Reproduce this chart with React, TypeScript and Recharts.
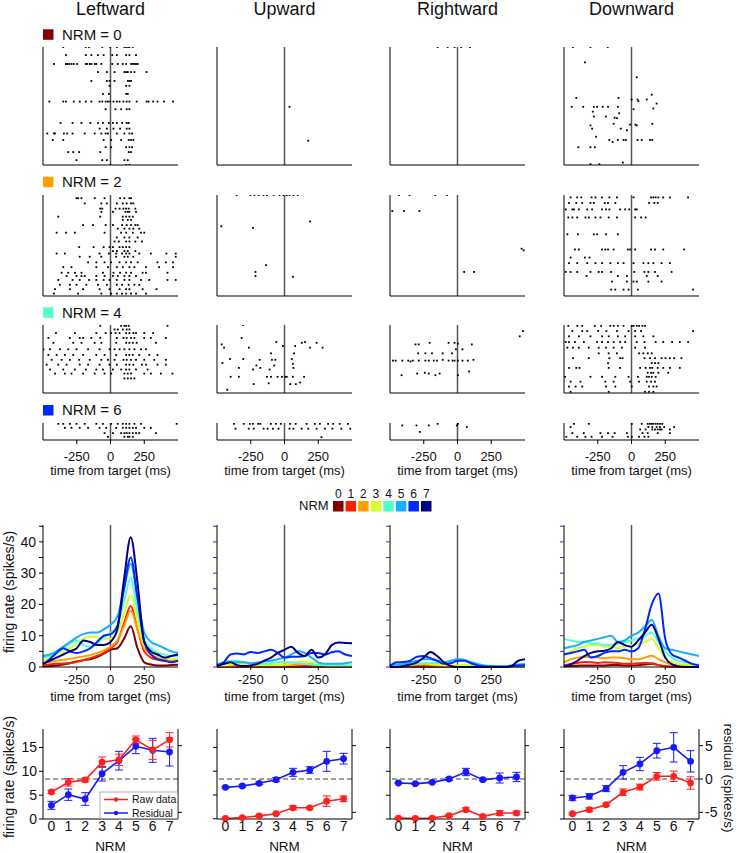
import React from 'react';
import { ScatterChart, Scatter, XAxis, YAxis, ReferenceLine, LineChart, Line, ErrorBar } from 'recharts';

const FONT = 'Arial, "Liberation Sans", Helvetica, sans-serif';

// ---------- categories / labels ----------
const DIRECTIONS = ['Leftward', 'Upward', 'Rightward', 'Downward'];
const NRM_LEVELS = [0, 1, 2, 3, 4, 5, 6, 7];
const RASTER_NRM = [0, 2, 4, 6];
const RASTER_TRIALS = [14.6, 12.6, 8.4, 2.1];
const TIME_TICKS = [-250, 0, 250];
const PSTH_TICKS = [0, 5, 10, 15, 20, 25, 30, 35, 40, 45];
const RATE_TICKS = [0, 5, 10, 15];
const RESID_TICKS = [-5, 0, 5];
const NRM_COLORS = ['#800000', '#ff2000', '#ffa000', '#d4ff30', '#55ffc8', '#12b0ff', '#0028ff', '#000088'];

// ---------- raster data: [trial, spike times (ms)] ----------
type Row = [number, number[]];
const LEFT_R0: Row[] = [
  [0, [-350, -183, -159, -61, -2, 47, 103, 116, 130, 140, 165]],
  [1, [-330, -183, -142, -93, -51, 13, 47, 116, 140, 189]],
  [2.1, [-419, -330, -321, -306, -289, -272, -247, -183, -174, -154, -142, -117, -105, -68, 13, 54, 91, 116, 152, 165, 177, 189, 201]],
  [3.1, [-93, -27, 30, 103, 116, 128, 152, 177, 267]],
  [4.2, [-142, -27, -7, 30, 128, 140, 152]],
  [4.8, [-7, 116, 140]],
  [5.8, [-56, -12, 116, 128]],
  [6.75, [-453, -350, -330, -272, -228, -183, -142, -81, -61, -36, -19, -2, 22, 47, 67, 96, 120, 140, 194, 267, 282, 316, 348, 397, 463]],
  [7.7, [-36, 37, 79, 120, 140]],
  [9.4, [-370, -281, -215, -149, -93, -56, -12, 18, 47, 86, 120, 135]],
  [10.1, [-81, -27, 22, 71, 120, 140]],
  [10.7, [-468, -419, -411, -345, -321, -281, -191, -117, -68, -36, -19, 47, 103, 140, 160]],
  [11.5, [-428, -350, -51, 5, 79, 135, 152, 170]],
  [12.4, [-36, 5, 116, 140, 160]],
  [13, [-313, -276, -232, -76, 135, 152]],
  [14, [-252, -61, -27, 103, 128]],
  [14.6, [-2, 116, 140]],
];
const LEFT_R2: Row[] = [
  [0.4, [-252, -240, -215, -117, -44, 71, 103, 140, 152]],
  [1.05, [-191, -68, -27, 47, 91, 120, 152, 169]],
  [1.7, [-76, -61, 37, 67, 96, 116, 135, 184]],
  [2.1, [-68, 18, 111, 128, 140, 189]],
  [2.7, [-387, -76, 91, 116, 140, 165]],
  [3.1, [91, 128, 152]],
  [3.75, [-203, -130, -36, 18, 86, 120, 152, 184, 201]],
  [4.2, [54, 103, 140, 169, 213]],
  [4.7, [-399, -330, -264, -44, 79, 116, 165, 226, 250]],
  [5.3, [47, 103, 140, 201]],
  [5.8, [30, 62, 116, 140, 184, 233]],
  [6.5, [-232, -125, -51, -7, 18, 67, 91, 116, 140]],
  [7, [18, 47, 103, 128, 184]],
  [7.3, [-399, -338, -81, -12, 42, 86, 116, 140, 213, 299, 414, 483]],
  [7.7, [-228, -154, -68, 42, 103, 128, 169, 483]],
  [8.4, [-166, -105, -44, 5, 67, 116, 152, 201, 348, 410, 463]],
  [9, [-350, -289, -105, -19, 47, 91, 140, 177, 263, 360, 463]],
  [9.7, [-362, -313, -264, -215, -56, 22, 71, 116, 152, 238, 263, 422]],
  [10.1, [-325, -252, -215, -191, -105, -44, 18, 54, 103, 140, 189]],
  [10.6, [-387, -281, -228, -159, -105, -51, -7, 47, 103, 140, 226, 287, 422, 483]],
  [11.2, [-375, -301, -252, -179, -93, -27, 47, 86, 135, 177, 213]],
  [11.75, [-411, -301, -203, -81, -7, 67, 116, 140, 238, 341]],
  [12.3, [-419, -240, -68, 5, 47, 86, 116, 152, 189, 263]],
];
const LEFT_R4: Row[] = [
  [0.1, [-76, 79, 103, 116, 135, 422]],
  [0.55, [30, 54, 91, 120, 140]],
  [1, [-404, -264, -105, -36, 5, 37, 67, 116, 140, 169, 189, 250, 316]],
  [1.6, [-460, -301, -228, -203, -142, -76, 47, 96, 120, 152, 177, 250, 299, 410]],
  [2.2, [-423, -276, -215, -117, -68, 42, 116, 140, 165, 194, 336]],
  [3, [-497, -448, -375, -313, -252, -166, -81, -7, 30, 67, 103, 140, 177, 226, 263]],
  [3.7, [-460, -399, -338, -276, -203, -105, -44, 42, 116, 140, 165, 213, 287, 348]],
  [4.3, [-436, -362, -301, -232, -154, -68, -19, 30, 96, 120, 152, 189, 250, 324, 410]],
  [4.9, [-473, -387, -325, -228, -166, -81, -7, 47, 116, 140, 169, 233, 263, 348, 410]],
  [5.5, [-448, -350, -264, -183, -105, -56, 18, 79, 116, 140, 189, 275]],
  [6, [-411, -338, -289, -203, -117, -44, 5, 103, 128, 152, 250, 299, 373, 459]],
  [6.6, [103, 128, 152, 177]],
];
const LEFT_R6: Row[] = [
  [0.1, [-387, -350, -301, -252, -191, -105, -56, 5, 54, 91, 116, 140, 177, 226, 490]],
  [0.6, [-338, -289, -228, -166, -81, -32, 42, 91, 116, 140, 165, 189, 250, 299]],
  [1.25, [-44, 18, 79, 103, 120, 140, 165, 189, 213, 336]],
  [1.7, [-19, 103, 128, 140, 165]],
];
const UP_R0: Row[] = [[7.4, [37]], [11.6, [176]]];
const UP_R2: Row[] = [
  [0, [-355, -252, -223, -191, -155, -130, -81, -37, -8, 17, 37, 66, 98]],
  [3.3, [189]], [3.9, [-468]], [4.1, [-233]], [8.75, [-137]], [9.6, [-215]], [10.1, [-215]], [10.2, [62]],
];
const UP_R4: Row[] = [
  [0, [-308]], [1.6, [-318]], [2.1, [-61, 152]], [2.2, [128, 238]], [2.4, [-465]], [2.6, [-12, 79]],
  [2.8, [-448, -264, 189, 282]], [3.5, [-100, 71]], [4.2, [-404, -306, 54]], [4.3, [-184, -93, -68]],
  [4.7, [-460]], [4.8, [62]], [5, [-208, -76]], [5.3, [-338, -179, 66]], [5.5, [-233, -110]],
  [6.4, [-399, -338, -130, -100, -51, -19, 5, 17, 62, 145]], [7.1, [115]], [7.2, [-117]], [7.3, [-228, 42, 84]], [8, [-424]],
];
const UP_R6: Row[] = [
  [0.1, [-375, -302, -257, -235, -196, -179, -101, -64, -27, 42, 83, 164, 225, 262, 323, 360, 409, 470]],
  [0.7, [-363, -265, -228, -155, -125, -86, -44, 37, 66, 127, 176, 238, 299, 355, 421, 487]],
  [1.75, [274]],
];
const RIGHT_R0: Row[] = [[0, [-147, -73, -22, 27, 93]]];
const RIGHT_R2: Row[] = [[0, [-434, -355, -164, -78]], [2, [-483, -397, -282]], [6.7, [475]], [6.9, [490]], [9.6, [49, 123]]];
const RIGHT_R4: Row[] = [
  [0.75, [485]], [1.4, [461]], [2.2, [-206, -66, -22]], [2.3, [3]], [2.4, [-311, -287, 106]], [3, [-12, 37]],
  [3.5, [-291, -238, -189, -110, -41]], [4.3, [-110, 118]],
  [4.4, [-478, -458, -409, -365, -331, -287, -238, -213, -176, -152, -66, -37, -22, 3, 37, 76]],
  [4.5, [-348]], [5.75, [86]], [5.9, [-242]], [6, [-299, -213, -132]], [6.2, [-414, -164, 3]],
];
const RIGHT_R6: Row[] = [[0.1, [-147, 3]], [0.3, [-409, -304, -213, -5]], [0.5, [69]], [1.1, [-279]]];
const DOWN_R0: Row[] = [
  [0, [-434, -304, -176]], [1.9, [-345]], [3.75, [39]], [5.9, [150]], [6.3, [-409, -96]], [6.5, [1, 45, 113]],
  [6.7, [51]], [7, [186]], [7.4, [-443, -358, -279, -255, -213, -174, -101]], [7.6, [162]], [7.7, [15]],
  [8, [-287]], [8.2, [-91]], [8.6, [-279, -189]], [8.75, [-125]], [8.8, [-108]], [9.5, [-132, 154]],
  [9.6, [-10, 29]], [9.7, [-304, 39]], [10.1, [-292, -79]], [10.3, [-34]], [11.1, [-262]],
  [11.5, [-164, -101, -59, -42, 45, 76, 137, 154]], [11.75, [-140]], [12.4, [-394, -304, -272]],
  [14.3, [-64]], [14.5, [-304, -238]],
];
const DOWN_R2: Row[] = [
  [0.3, [-451, -402, -372, -296, -267, -218, -164, -108, 15, 145, 162, 179, 199, 235, 284, 419]],
  [1, [-463, -409, -365, -304, -279, -198, -174, -120, 130, 169, 194]],
  [1.8, [-487, -438, -426, -390, -328, -292, -218, -189, -164, -84, -47, -17, 27, 39]],
  [2.8, [-468, -438, -402, -341, -316, -267, -230, -169, -108, 27, 71, 105]],
  [4.9, [-475, -397, -279, -255, -189, -101]],
  [6.8, [-419, -390, -218, -194, -174, -132, -27, -10, 27, 145, 174, 235, 390]],
  [7.8, [-451, -345, -311]],
  [8.5, [-463, -402, -328, -267, -218, -157, -101, -59, 15, 88, 125, 162, 223, 284]],
  [9.6, [-487, -451, -402, -304, -243, -218, -152, 20, 96, 125, 174, 297]],
  [10.1, [-333, -101, -34, 113, 194]],
  [10.8, [-145, -34, 15, 39, 125, 223]],
  [11.8, [-150, -120, -59, -22, 47, 456]],
];
const DOWN_R4: Row[] = [
  [0.1, [-468, -402, -365, -272, -225, -157, -132, -101, -59, 2, 15, 39, 56, 81, 100]],
  [0.75, [-438, -365, -328, -247, -186, -108, -22, 27, 71, 456]],
  [1.4, [-463, -390, -304, -218, -169, -101, -47, 27, 88, 162]],
  [2.1, [-487, -463, -419, -353, -255, -218, -174, -132, -84, -47, 39, 96, 179, 235, 301, 358, 419]],
  [2.8, [-475, -434, -390, -316, -243, -189, -132, -71, 27, 100]],
  [3.5, [-243, -169, -108, 56, 88, 120, 150]],
  [4.1, [-434, -316, -164, -84, -66, 96, 137, 174, 223, 252, 284, 316, 370]],
  [4.7, [-174, 150, 174, 199]],
  [5.3, [-463, -409, -385, -169, -84, 64, 105, 137, 154, 194, 235, 284, 358]],
  [5.9, [120, 145, 162, 199, 272]],
  [6.4, [-492, -304, -218, -120, -22, 47, 113, 130, 150, 179]],
  [7, [-451, -378, -194, -132, -10, 56, 113, 145, 174]],
  [7.6, [-463, -414, -365, -189, -120, 2, 130, 162, 186]],
  [8.25, [-451, -169, 100, 130, 162]],
];
const DOWN_R6: Row[] = [
  [0.1, [-426, -316, 2, 76, 120, 137, 150, 162, 179, 194, 211, 228]],
  [0.5, [-451, 125, 154, 186, 211, 242, 316]],
  [0.8, [64, 105, 154, 174, 194, 211, 223, 284]],
  [1.25, [-438, -353, -230, -174, -125, -34, 81, 120, 194, 284]],
  [1.7, [-483, -402, -341, -296, -218, -140, -27, 2, 56, 96, 125]],
];
const RASTERS: Row[][][] = [
  [LEFT_R0, LEFT_R2, LEFT_R4, LEFT_R6],
  [UP_R0, UP_R2, UP_R4, UP_R6],
  [RIGHT_R0, RIGHT_R2, RIGHT_R4, RIGHT_R6],
  [DOWN_R0, DOWN_R2, DOWN_R4, DOWN_R6],
];

// ---------- PSTH data (spikes/s), one row per NRM level ----------
const PSTH_T = [-500, -450, -400, -350, -300, -250, -200, -150, -100, -50, 0, 50, 100, 150, 200, 250, 300, 350, 400, 450, 500];
const PSTH_LEFT = [
  [0.2, 0.3, 0.5, 0.8, 1.2, 1.8, 2.2, 2.5, 3.2, 4.3, 5.5, 6, 9, 13, 6, 1.5, 0.8, 0.5, 0.5, 0.6, 0.7],
  [0.5, 0.8, 1, 1.1, 1.3, 1.6, 2.2, 2.8, 3.5, 4.5, 6, 8, 14, 19.5, 12, 5, 3, 2.3, 2, 2, 2.2],
  [1.2, 1.6, 2, 2.3, 2.6, 3, 3.4, 3.8, 4.5, 5.3, 6.5, 8.5, 13, 18, 12, 6, 4, 3, 2.5, 2.3, 2.5],
  [2, 3, 4, 5, 6, 7.5, 9, 9.7, 9.5, 9, 9, 11, 17, 23, 15, 7, 5, 3.5, 3, 2.5, 2.7],
  [3, 3.5, 4.5, 6, 7.5, 8.5, 7, 6.5, 7.5, 9.5, 11, 13, 21, 28.5, 18, 9, 6, 4.5, 4, 3.5, 3.5],
  [3.5, 4, 5, 6.5, 8, 9.5, 10.5, 11, 11, 12, 13.5, 16, 25, 33, 22, 11, 8, 7, 6, 5, 4.5],
  [1, 2.5, 4.5, 6, 5, 4.5, 5, 6, 8, 10, 10.5, 13, 25, 35, 22, 8, 4, 2.5, 2, 1.5, 2],
  [1, 2, 3, 4, 5, 6, 8.5, 8, 7, 7, 8, 12, 28, 41.5, 27, 8, 5, 4, 3, 3.5, 4],
];
const PSTH_UP = [
  [0.1, 0.1, 0.1, 0.1, 0.1, 0.1, 0.1, 0.1, 0.1, 0.1, 0.1, 0.1, 0.1, 0.1, 0.1, 0.1, 0.1, 0.1, 0.1, 0.1, 0.1],
  [0.1, 0.1, 0.1, 0.1, 0.1, 0.2, 0.2, 0.2, 0.2, 0.2, 0.2, 0.2, 0.3, 0.3, 0.3, 0.2, 0.2, 0.2, 0.2, 0.2, 0.2],
  [0.3, 0.3, 0.3, 0.4, 0.4, 0.4, 0.4, 0.5, 0.5, 0.5, 0.5, 0.6, 0.8, 1, 1, 0.7, 0.5, 0.4, 0.4, 0.4, 0.4],
  [0.3, 0.5, 0.8, 1, 1, 1, 0.8, 0.6, 0.6, 0.6, 0.8, 1.2, 1.6, 1.8, 1.5, 1, 0.6, 0.5, 0.5, 0.5, 0.5],
  [1, 1.5, 2, 2, 1.5, 1.2, 1, 1, 1.2, 1.5, 1.5, 1.5, 1.2, 1, 0.8, 0.6, 0.5, 0.5, 0.5, 0.5, 0.5],
  [0.8, 1, 1.5, 1.5, 1.5, 1.2, 1.5, 1.8, 2, 2.5, 3, 4, 5, 4.5, 3, 1.5, 1, 1, 1, 1.2, 1.5],
  [0.5, 1.5, 4, 4.3, 4, 4.8, 4.5, 5, 5.5, 4.5, 3, 3.3, 3.3, 3.5, 4.5, 4.5, 4, 4.7, 5, 4, 3.5],
  [0.2, 1, 1.5, 0.6, 0.3, 0.5, 1, 2, 3, 4.5, 5.5, 6.5, 4.5, 3.5, 5.5, 3, 4, 7, 7.8, 7.7, 7.6],
];
const PSTH_RIGHT = [
  [0.05, 0.05, 0.05, 0.05, 0.05, 0.05, 0.05, 0.05, 0.05, 0.05, 0.05, 0.05, 0.05, 0.05, 0.05, 0.05, 0.05, 0.05, 0.05, 0.05, 0.05],
  [0.1, 0.1, 0.2, 0.3, 0.3, 0.3, 0.3, 0.2, 0.2, 0.1, 0.1, 0.1, 0.1, 0.1, 0.1, 0.1, 0.1, 0.1, 0.1, 0.1, 0.1],
  [0.2, 0.3, 0.4, 0.6, 0.8, 0.9, 0.7, 0.4, 0.3, 0.2, 0.3, 0.3, 0.2, 0.1, 0.1, 0.1, 0.1, 0.1, 0.1, 0.1, 0.1],
  [0.3, 0.5, 0.7, 0.9, 1.1, 1.2, 1, 0.7, 0.5, 0.4, 0.5, 0.6, 0.5, 0.3, 0.2, 0.2, 0.2, 0.2, 0.2, 0.2, 0.2],
  [0.3, 0.4, 0.6, 0.8, 1, 1.2, 1.3, 1.3, 1.5, 2, 2.5, 2.2, 1.2, 0.5, 0.2, 0.2, 0.2, 0.2, 0.2, 0.2, 0.2],
  [0.5, 0.8, 1, 1.5, 2, 2.5, 2.5, 2, 1.5, 2, 2.5, 2.3, 1.5, 1, 0.5, 0.3, 0.3, 0.3, 0.5, 0.8, 1],
  [0.3, 1.5, 1.6, 2, 3.3, 3.5, 2.8, 2, 1, 1.2, 2, 2, 1.2, 0.5, 0.2, 0.1, 0, 0, 0.3, 0.5, 0.6],
  [0, 0, 0.3, 0.8, 1.5, 3, 4.8, 3.5, 1.5, 0.3, 0, 0, 0, 0, 0, 0, 0, 0, 0.3, 2, 2.5],
];
const PSTH_DOWN = [
  [0.2, 0.3, 0.4, 0.5, 0.5, 0.5, 0.5, 0.6, 0.6, 0.5, 0.5, 0.6, 0.8, 1, 0.6, 0.2, 0.1, 0.1, 0.1, 0.1, 0.1],
  [0.5, 1, 1.3, 1.6, 1.5, 1.3, 1.5, 1.4, 1.3, 1, 1, 1.2, 1.3, 1.2, 0.6, 0.3, 0.1, 0.1, 0.1, 0.1, 0.1],
  [1.5, 2.5, 3, 3.2, 3.3, 3, 2.8, 3, 3, 2.8, 2.5, 2.5, 3, 3.6, 2.5, 1.5, 0.8, 0.5, 0.3, 0.2, 0.2],
  [4, 5, 6, 6.5, 7, 7, 6.5, 6.5, 6, 6.5, 7, 7.5, 8, 9, 6, 3, 1.5, 1, 0.8, 0.5, 0.3],
  [9, 8.5, 8, 8, 7.5, 7.5, 7, 7, 7.5, 8, 8.5, 9, 10, 11, 8, 5, 3, 2, 1.5, 1, 0.8],
  [6, 6.5, 7, 8, 8.5, 9, 9.5, 10, 8, 8.5, 10, 11, 13, 15, 10, 6, 5.5, 5, 4.5, 4, 3.5],
  [4, 4.5, 5, 5.5, 3, 3.5, 4.5, 5, 5, 5.5, 5, 6, 12, 20, 23.5, 9, 4, 3, 2, 1, 0.5],
  [0.2, 0.8, 2, 3.5, 4.5, 5, 5.2, 6, 8, 7, 6.5, 8.5, 11, 13.5, 9, 3, 0.8, 0.2, 0, 0, 0],
];
const PSTHS = [PSTH_LEFT, PSTH_UP, PSTH_RIGHT, PSTH_DOWN];

// ---------- tuning data ----------
const RAW_LEFT = [5.66, 7.7, 8.2, 11.9, 12.4, 16.6, 14.5, 16.6];
const RAW_LEFT_ERR = [0.3, 0.8, 0.4, 1.1, 1.2, 0.8, 2.0, 1.5];
const RES_LEFT = [-3.95, -2.35, -3.0, 0.8, 2.75, 4.9, 4.3, 4.05];
const RES_LEFT_ERR = [0.6, 0.85, 0.95, 1.1, 1.4, 1.1, 1.8, 2.1];
const RAW_UP = [0.05, 0.25, 0.6, 1.05, 2.3, 2.3, 3.7, 4.2];
const RAW_UP_ERR = [0.1, 0.1, 0.15, 0.15, 0.4, 0.3, 1.1, 0.6];
const RES_UP = [-1.25, -1.05, -0.65, -0.1, 1.0, 1.35, 2.65, 3.05];
const RES_UP_ERR = [0.15, 0.15, 0.2, 0.3, 0.6, 0.5, 1.5, 0.8];
const RAW_RIGHT = [0.2, 0.1, 0.2, 0.7, 1.95, 0.55, 1.25, 1.25];
const RAW_RIGHT_ERR = [0.15, 0.1, 0.15, 0.2, 0.4, 0.2, 0.5, 0.4];
const RES_RIGHT = [-0.6, -0.7, -0.5, 0.0, 1.05, -0.1, 0.15, 0.3];
const RES_RIGHT_ERR = [0.1, 0.1, 0.1, 0.2, 0.55, 0.15, 0.75, 0.7];
const RAW_DOWN = [1.1, 1.95, 3.0, 5.6, 6.7, 8.95, 8.95, 7.55];
const RAW_DOWN_ERR = [0.2, 0.4, 0.3, 0.7, 0.6, 0.8, 1.1, 1.3];
const RES_DOWN = [-2.85, -2.6, -1.45, 1.0, 2.25, 4.25, 4.75, 2.65];
const RES_DOWN_ERR = [0.35, 0.4, 0.45, 1.0, 1.0, 1.1, 2.2, 1.6];
const TUNING = [
  [RAW_LEFT, RAW_LEFT_ERR, RES_LEFT, RES_LEFT_ERR],
  [RAW_UP, RAW_UP_ERR, RES_UP, RES_UP_ERR],
  [RAW_RIGHT, RAW_RIGHT_ERR, RES_RIGHT, RES_RIGHT_ERR],
  [RAW_DOWN, RAW_DOWN_ERR, RES_DOWN, RES_DOWN_ERR],
];

// ---------- layout ----------
const COL_L = [43, 217, 390, 564];
const PW = 135;
const RASTER_TOP = [47, 195, 325, 423];
const RASTER_H = [118, 101, 68, 17];
const NRM_LABEL_Y = [34.3, 181.7, 312.3, 410];
const PSTH_TOP = 525;
const PSTH_H = 142;
const TUN_TOP = 729;
const TUN_H = 90;
const RAW_COLOR = '#ff2020';
const RES_COLOR = '#1818ff';

const SpikeDot = (p: any) => <rect x={p.cx - 0.9} y={p.cy - 0.9} width={1.8} height={1.8} fill="#000" />;

function Raster({ col, row }: { col: number; row: number }) {
  const rows = RASTERS[col][row];
  const data = rows.flatMap(([tr, ts]) => ts.map((t) => ({ t, tr })));
  const last = row === 3;
  const axisH = last ? 30 : 2;
  const H = RASTER_H[row];
  return (
    <div style={{ position: 'absolute', left: COL_L[col] - 1, top: RASTER_TOP[row] - 2 }}>
      <ScatterChart width={PW + 2} height={H + 2 + axisH} margin={{ top: 2, right: 1, left: 1, bottom: 0 }}>
        <XAxis
          type="number"
          dataKey="t"
          domain={[-500, 500]}
          ticks={TIME_TICKS}
          allowDataOverflow
          height={axisH}
          axisLine={{ stroke: '#000' }}
          tick={last ? { fontSize: 13, fill: '#111', fontFamily: FONT } : false}
          tickLine={last ? { stroke: '#000' } : false}
          tickSize={4}
          tickMargin={8}
        />
        <YAxis type="number" dataKey="tr" domain={[0, RASTER_TRIALS[row]]} reversed hide allowDataOverflow />
        <ReferenceLine x={-500} stroke="#000" strokeWidth={1} />
        <ReferenceLine x={0} stroke="#555" strokeWidth={1.5} />
        <Scatter data={data} shape={SpikeDot} isAnimationActive={false} />
      </ScatterChart>
    </div>
  );
}

function Psth({ col }: { col: number }) {
  const series = PSTHS[col];
  const data = PSTH_T.map((t, i) => {
    const o: any = { t };
    series.forEach((s, k) => (o['c' + k] = s[i]));
    return o;
  });
  const labels = col === 0;
  return (
    <div style={{ position: 'absolute', left: COL_L[col] - 40, top: PSTH_TOP - 4 }}>
      <LineChart width={40 + PW + 2} height={4 + PSTH_H + 24} margin={{ top: 4, right: 2, left: 0, bottom: 0 }} data={data}>
        <XAxis
          type="number"
          dataKey="t"
          domain={[-500, 500]}
          ticks={TIME_TICKS}
          height={24}
          axisLine={{ stroke: '#000' }}
          tickLine={{ stroke: '#000' }}
          tickSize={3}
          tickMargin={5}
          tick={{ fontSize: 13, fill: '#111', fontFamily: FONT }}
        />
        <YAxis
          type="number"
          domain={[0, 45.4]}
          ticks={PSTH_TICKS}
          width={40}
          axisLine={{ stroke: '#000' }}
          tickLine={{ stroke: labels ? '#000' : '#3030b0' }}
          tickSize={4}
          tickMargin={3}
          tick={{ fontSize: 14, fill: '#111', fontFamily: FONT }}
          tickFormatter={(v: number) => (labels && v % 10 === 0 ? String(v) : '')}
        />
        <ReferenceLine x={0} stroke="#555" strokeWidth={1.5} />
        {series.map((_, k) => (
          <Line
            key={k}
            type="monotone"
            dataKey={'c' + k}
            stroke={NRM_COLORS[k]}
            strokeWidth={2}
            dot={false}
            isAnimationActive={false}
          />
        ))}
      </LineChart>
    </div>
  );
}

function Tuning({ col }: { col: number }) {
  const [raw, rawErr, res, resErr] = TUNING[col];
  const data = NRM_LEVELS.map((n, i) => ({ n, raw: raw[i], rawErr: rawErr[i], res: res[i], resErr: resErr[i] }));
  const showL = col === 0;
  const showR = col === 3;
  return (
    <div style={{ position: 'absolute', left: COL_L[col] - 40, top: TUN_TOP - 4 }}>
      <LineChart width={40 + PW + 40} height={4 + TUN_H + 20} margin={{ top: 4, right: 0, left: 0, bottom: 0 }} data={data}>
        <XAxis
          type="number"
          dataKey="n"
          domain={[-0.5, 7.5]}
          ticks={NRM_LEVELS}
          height={20}
          axisLine={{ stroke: '#000' }}
          tickLine={false}
          tickSize={2}
          tickMargin={0}
          tick={{ fontSize: 14, fill: '#111', fontFamily: FONT }}
        />
        <YAxis
          yAxisId="l"
          type="number"
          domain={[0, 18.87]}
          ticks={RATE_TICKS}
          width={40}
          axisLine={{ stroke: '#000' }}
          tickLine={{ stroke: '#000' }}
          tickSize={4}
          tickMargin={2}
          tick={{ fontSize: 14, fill: '#111', fontFamily: FONT }}
          tickFormatter={(v: number) => (showL ? String(v) : '')}
        />
        <YAxis
          yAxisId="r"
          orientation="right"
          type="number"
          domain={[-6, 7.5]}
          ticks={showR ? RESID_TICKS : [-5, 5]}
          width={40}
          axisLine={{ stroke: '#000' }}
          tickLine={{ stroke: '#000' }}
          tickSize={4}
          tickMargin={2}
          tick={{ fontSize: 14, fill: '#111', fontFamily: FONT }}
          tickFormatter={(v: number) => (showR ? String(v) : '')}
        />
        <ReferenceLine yAxisId="r" y={0} stroke="#444" strokeWidth={1.2} strokeDasharray="5 3" />
        <Line
          yAxisId="r"
          type="linear"
          dataKey="res"
          stroke={RES_COLOR}
          strokeWidth={1.6}
          dot={{ r: 2.6, fill: RES_COLOR, stroke: RES_COLOR }}
          isAnimationActive={false}
        >
          <ErrorBar dataKey="resErr" width={4} stroke={RES_COLOR} strokeWidth={1} />
        </Line>
        <Line
          yAxisId="l"
          type="linear"
          dataKey="raw"
          stroke={RAW_COLOR}
          strokeWidth={1.6}
          dot={{ r: 2.6, fill: RAW_COLOR, stroke: RAW_COLOR }}
          isAnimationActive={false}
        >
          <ErrorBar dataKey="rawErr" width={4} stroke={RAW_COLOR} strokeWidth={1} />
        </Line>
      </LineChart>
    </div>
  );
}

function Overlay() {
  const txt = { fontFamily: FONT, fill: '#111' } as const;
  return (
    <svg width={738} height={853} style={{ position: 'absolute', left: 0, top: 0, pointerEvents: 'none' }}>
      {DIRECTIONS.map((d, c) => (
        <text key={d} x={COL_L[c] + PW / 2} y={15} fontSize={18} textAnchor="middle" {...txt}>
          {d}
        </text>
      ))}
      {RASTER_NRM.map((n, r) => (
        <g key={n}>
          <rect x={43} y={NRM_LABEL_Y[r] - 5} width={10.5} height={10.5} fill={NRM_COLORS[n]} />
          <text x={62} y={NRM_LABEL_Y[r] + 5.4} fontSize={15} {...txt}>
            {`NRM = ${n}`}
          </text>
        </g>
      ))}
      {COL_L.map((l, c) => (
        <g key={c}>
          <text x={l + PW / 2} y={475.3} fontSize={13} textAnchor="middle" {...txt}>
            time from target (ms)
          </text>
          <text x={l + PW / 2} y={701.3} fontSize={13} textAnchor="middle" {...txt}>
            time from target (ms)
          </text>
          <text x={l + PW / 2} y={851} fontSize={13.5} textAnchor="middle" {...txt}>
            NRM
          </text>
        </g>
      ))}
      <text x={299} y={510.3} fontSize={13} {...txt}>
        NRM
      </text>
      {NRM_LEVELS.map((n, i) => (
        <g key={n}>
          <rect x={333 + 12.57 * i} y={501} width={10.5} height={10.5} fill={NRM_COLORS[i]} />
          <text x={333 + 12.57 * i + 5.25} y={497.6} fontSize={12} textAnchor="middle" {...txt}>
            {n}
          </text>
        </g>
      ))}
      <text x={13.5} y={592} fontSize={14} textAnchor="middle" transform="rotate(-90 13.5 592)" {...txt}>
        firing rate (spikes/s)
      </text>
      <text x={13.5} y={777} fontSize={14} textAnchor="middle" transform="rotate(-90 13.5 777)" {...txt}>
        firing rate (spikes/s)
      </text>
      <text x={723.5} y={778} fontSize={13.5} textAnchor="middle" transform="rotate(90 723.5 778)" {...txt}>
        residual (spikes/s)
      </text>
      <g>
        <rect x={100} y={792} width={77.5} height={26.5} fill="#fff" stroke="#999" strokeWidth={0.8} />
        <line x1={104} x2={128} y1={799.5} y2={799.5} stroke={RAW_COLOR} strokeWidth={1.5} />
        <circle cx={116} cy={799.5} r={2.2} fill={RAW_COLOR} />
        <text x={132} y={803.3} fontSize={10.5} {...txt}>
          Raw data
        </text>
        <line x1={104} x2={128} y1={813} y2={813} stroke={RES_COLOR} strokeWidth={1.5} />
        <circle cx={116} cy={813} r={2.2} fill={RES_COLOR} />
        <text x={132} y={816.8} fontSize={10.5} {...txt}>
          Residual
        </text>
      </g>
    </svg>
  );
}

export default function App() {
  return (
    <div style={{ position: 'absolute', left: 0, top: 0, width: 738, height: 853, background: '#fff', overflow: 'hidden' }}>
      {COL_L.map((_, c) => (
        <React.Fragment key={c}>
          {RASTER_NRM.map((_, r) => (
            <Raster key={r} col={c} row={r} />
          ))}
          <Psth col={c} />
          <Tuning col={c} />
        </React.Fragment>
      ))}
      <Overlay />
    </div>
  );
}
